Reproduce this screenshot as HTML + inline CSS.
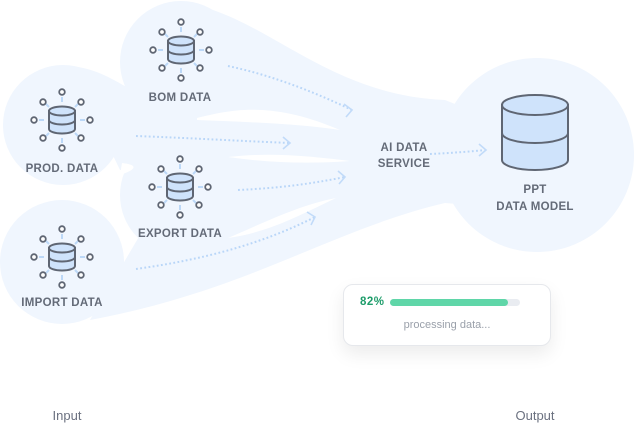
<!DOCTYPE html>
<html><head><meta charset="utf-8"><style>
html,body{margin:0;padding:0;background:#fff;}
body{width:635px;height:423px;overflow:hidden;position:relative;font-family:"Liberation Sans",sans-serif;}
svg{position:absolute;left:0;top:0;}
.lbl{font-family:"Liberation Sans",sans-serif;font-size:11.5px;font-weight:bold;fill:#646b78;text-anchor:middle;letter-spacing:0.3px;}
.card{position:absolute;left:343px;top:284px;width:208px;height:62px;border-radius:10px;background:#fff;border:1px solid #e6e8ec;box-shadow:0 8px 18px rgba(0,0,0,0.08);box-sizing:border-box;}
</style></head><body>
<svg width="635" height="423" viewBox="0 0 635 423">
<defs>
<g id="db">
<g stroke="#bcd8f7" stroke-width="2">
<line x1="0" y1="-18" x2="0" y2="-23"/><line x1="0" y1="18" x2="0" y2="23"/>
<line x1="-18" y1="0" x2="-23" y2="0"/><line x1="18" y1="0" x2="23" y2="0"/>
<line x1="-13" y1="-13" x2="-16" y2="-16"/><line x1="13" y1="-13" x2="16" y2="-16"/>
<line x1="-13" y1="13" x2="-16" y2="16"/><line x1="13" y1="13" x2="16" y2="16"/>
</g>
<g fill="#fff" stroke="#5f6673" stroke-width="1.8">
<circle cx="0" cy="-28" r="2.8"/><circle cx="0" cy="28" r="2.8"/>
<circle cx="-28" cy="0" r="2.8"/><circle cx="28" cy="0" r="2.8"/>
<circle cx="-19" cy="-18" r="2.8"/><circle cx="19" cy="-18" r="2.8"/>
<circle cx="-19" cy="18" r="2.8"/><circle cx="19" cy="18" r="2.8"/>
</g>
<g stroke="#5f6673" stroke-width="2" fill="#cfe3fb">
<path d="M-13,-9 v18 a13,4.5 0 0 0 26,0 v-18 z"/>
<ellipse cx="0" cy="-9" rx="13" ry="4.5"/>
<path d="M-13,0 a13,4.5 0 0 0 26,0" fill="none"/>
</g>
</g>
</defs>
<g fill="#f0f6fe">
<circle cx="181" cy="62" r="61"/>
<circle cx="63" cy="125" r="60"/>
<circle cx="180" cy="195" r="60"/>
<circle cx="62" cy="262" r="62"/>
<circle cx="537" cy="155" r="97"/>
<path d="M175,2 C260,8 320,95 445,100 L470,110 L470,205 L445,203 C330,230 250,290 90,320 L140,235 L140,100 Z"/>
<path d="M70,66 C120,70 140,110 200,112 L200,165 L120,170 Z"/>
</g>
<g fill="#fff">
<path d="M197,118 C230,110 270,100 340,130 C300,124 250,122 197,120 Z"/>
<path d="M228,157 C270,152 310,156 350,161 C310,164 270,163 228,157 Z"/>
<path d="M228,238 C270,220 300,205 336,198 C300,215 270,232 228,238 Z"/>
<path d="M120,175 C135,170 140,165 122,163 Z"/>
</g>
<use href="#db" x="181" y="50"/>
<use href="#db" x="62" y="120"/>
<use href="#db" x="180" y="187"/>
<use href="#db" x="62" y="257"/>
<g stroke="#5f6673" stroke-width="2" fill="#cfe3fb">
<path d="M502,105 v55 a33,10 0 0 0 66,0 v-55 z"/>
<ellipse cx="535" cy="105" rx="33" ry="10"/>
<path d="M502,133 a33,10 0 0 0 66,0" fill="none"/>
</g>
<g fill="none" stroke="#b9d6f8" stroke-width="2" stroke-dasharray="1.8 2.4">
<path d="M228,66 C270,75 310,90 352,110"/>
<path d="M136,136 C190,138 240,141 290,143"/>
<path d="M238,190 C280,188 310,184 345,177"/>
<path d="M136,269 C200,260 260,245 315,217"/>
<path d="M430,154 C450,153 465,152 486,150"/>
</g>
<g fill="none" stroke="#c2dbf9" stroke-width="1.6">
<path d="M344,104 L352,110 L346,117"/>
<path d="M283,137 L290,143 L283,149"/>
<path d="M338,171 L345,177 L339,184"/>
<path d="M307,212 L315,217 L311,225"/>
<path d="M479,144 L486,150 L479,156"/>
</g>
<text class="lbl" x="180" y="101">BOM DATA</text>
<text class="lbl" x="62" y="172">PROD. DATA</text>
<text class="lbl" x="180" y="237">EXPORT DATA</text>
<text class="lbl" x="62" y="306">IMPORT DATA</text>
<text class="lbl" x="404" y="151">AI DATA</text>
<text class="lbl" x="404" y="167">SERVICE</text>
<text class="lbl" x="535" y="193">PPT</text>
<text class="lbl" x="535" y="210">DATA MODEL</text>
<text x="67" y="420" font-size="13" fill="#6b7180" text-anchor="middle" font-family="Liberation Sans, sans-serif">Input</text>
<text x="535" y="420" font-size="13" fill="#6b7180" text-anchor="middle" font-family="Liberation Sans, sans-serif">Output</text>
</svg>
<div class="card">
<div style="position:absolute;left:16px;top:11px;font-size:11.5px;font-weight:bold;color:#1f9d6b;letter-spacing:0.5px;">82%</div>
<div style="position:absolute;left:46px;top:14px;width:130px;height:7px;border-radius:4px;background:#e9ecf1;"></div>
<div style="position:absolute;left:46px;top:14px;width:118px;height:7px;border-radius:4px;background:#5fd6a8;"></div>
<div style="position:absolute;left:0;width:100%;top:34px;text-align:center;font-size:11px;color:#9aa0aa;">processing data...</div>
</div>
</body></html>
